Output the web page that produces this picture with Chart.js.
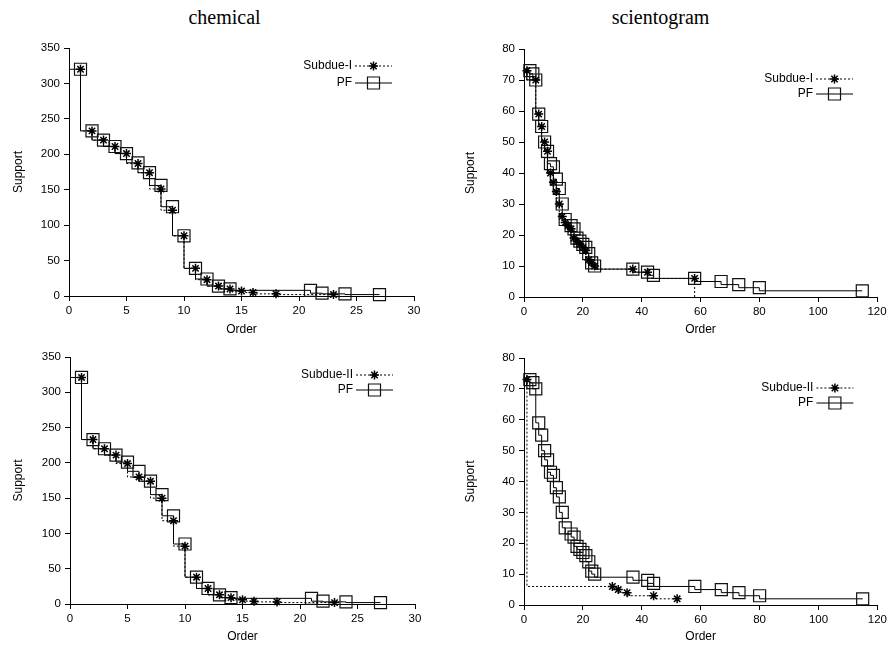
<!DOCTYPE html>
<html>
<head>
<meta charset="utf-8">
<script src="https://cdn.jsdelivr.net/npm/chart.js@4/dist/chart.umd.min.js"></script>
<style>
  html, body { margin: 0; padding: 0; background: #fff; }
  body { width: 890px; height: 646px; position: relative; overflow: hidden; }
  canvas { position: absolute; }
  .ttl { position: absolute; top: 6px; font-family: "Liberation Serif", "DejaVu Serif", serif; font-size: 20px; color: #000; text-align: center; width: 445px; }
</style>
</head>
<body>
<div class="ttl" style="left:2px;">chemical</div>
<div class="ttl" style="left:438px;">scientogram</div>
<canvas id="c1" width="445" height="340" style="left:0;top:0;"></canvas>
<canvas id="c2" width="445" height="340" style="left:445px;top:0;"></canvas>
<canvas id="c3" width="445" height="306" style="left:0;top:340px;"></canvas>
<canvas id="c4" width="445" height="306" style="left:445px;top:340px;"></canvas>
<script>
// ---------------- DATA ----------------
const panelTitles = ["chemical", "scientogram"];
const xAxisLabel = "Order";
const yAxisLabel = "Support";
const seriesNames = ["Subdue-I", "Subdue-II", "PF"];

// chemical
const chemOrderSubdueI   = [1, 2, 3, 4, 5, 6, 7, 8, 9, 10, 11, 12, 13, 14, 15, 16, 18, 23];
const chemSupportSubdueI = [320, 233, 220, 211, 201, 187, 174, 151, 121, 85, 39, 23, 14, 10, 7, 5, 3, 2];
const chemOrderPF1   = [0, 1, 2, 3, 4, 5, 6, 7, 8, 9, 10, 11, 12, 13, 14, 21, 22, 24, 27];
const chemSupportPF1 = [320, 320, 233, 220, 211, 201, 188, 174, 156, 126, 85, 39, 24, 14, 10, 8, 4, 3, 2];

const chemOrderSubdueII   = [1, 2, 3, 4, 5, 6, 7, 8, 9, 10, 11, 12, 13, 14, 15, 16, 18, 23];
const chemSupportSubdueII = [321, 233, 220, 211, 199, 180, 174, 150, 118, 82, 38, 22, 13, 9, 6, 4, 3, 2];
const chemOrderPF2   = [0, 1, 2, 3, 4, 5, 6, 7, 8, 9, 10, 11, 12, 13, 14, 21, 22, 24, 27];
const chemSupportPF2 = [321, 321, 233, 220, 211, 201, 188, 174, 155, 125, 85, 38, 22, 13, 9, 8, 4, 3, 2];

// scientogram
const sciOrderSubdueI   = [1, 4, 5, 6, 7, 8, 9, 10, 11, 12, 13, 14, 15, 16, 17, 18, 19, 20, 21, 22, 23, 24, 37, 42, 58, 58];
const sciSupportSubdueI = [73, 70, 59, 55, 50, 47, 40, 37, 34, 30, 26, 24, 23, 22, 19, 18, 17, 16, 15, 12, 11, 10, 9, 8, 6, 0];
const sciOrderPF   = [2, 3, 4, 5, 6, 7, 8, 9, 10, 11, 12, 13, 14, 16, 17, 18, 19, 20, 21, 22, 23, 24, 37, 42, 44, 58, 67, 73, 80, 115];
const sciSupportPF = [73, 72, 70, 59, 55, 50, 47, 43, 42, 38, 35, 30, 25, 23, 22, 19, 18, 17, 16, 14, 11, 10, 9, 8, 7, 6, 5, 4, 3, 2];
const sciOrderSubdueII   = [1, 30, 32, 35, 44, 52];
const sciSupportSubdueII = [73, 6, 5, 4, 3, 2];

// axis ranges / ticks
const chemXTicks = [0, 5, 10, 15, 20, 25, 30];
const chemYTicks = [0, 50, 100, 150, 200, 250, 300, 350];
const sciXTicks  = [0, 20, 40, 60, 80, 100, 120];
const sciYTicks  = [0, 10, 20, 30, 40, 50, 60, 70, 80];

// ---------------- HELPERS ----------------
const FONT = '"Liberation Sans", Arial, sans-serif';
const pts = (xs, ys) => xs.map((x, i) => ({ x: x, y: ys[i] }));
const hiddenPt = c => (c.raw && (c.raw.x === 0 || c.raw.y === 0));

function subdueDs(label, xs, ys) {
  return {
    label: label, data: pts(xs, ys), showLine: true, stepped: 'after',
    borderColor: '#000', borderWidth: 1, borderDash: [2, 2],
    pointStyle: 'star', pointBorderColor: '#000', pointBackgroundColor: 'rgba(0,0,0,0)',
    pointBorderWidth: 1.5,
    pointRadius: c => hiddenPt(c) ? 0 : 4.5, pointHoverRadius: 0,
    clip: false
  };
}
function pfDs(label, xs, ys) {
  return {
    label: label, data: pts(xs, ys), showLine: true, stepped: 'after',
    borderColor: '#000', borderWidth: 1,
    pointStyle: 'rect', pointBorderColor: '#111', pointBackgroundColor: 'rgba(0,0,0,0)',
    pointBorderWidth: 1.2,
    pointRadius: c => hiddenPt(c) ? 0 : 8.5, pointHoverRadius: 0,
    clip: false
  };
}

const gpLegend = {
  id: 'gpLegend',
  afterDatasetsDraw(chart, args, opts) {
    const { ctx, chartArea } = chart;
    const len = 37;
    const xr = chartArea.right - opts.right;
    chart.data.datasets.forEach((ds, i) => {
      const y = chartArea.top + opts.top + i * opts.gap;
      ctx.save();
      ctx.font = '12px ' + FONT;
      ctx.textAlign = 'right';
      ctx.textBaseline = 'middle';
      ctx.fillStyle = '#000';
      ctx.fillText(ds.label, xr - len - 3, y);
      ctx.strokeStyle = ds.borderColor;
      ctx.lineWidth = ds.borderWidth;
      ctx.setLineDash(ds.borderDash || []);
      ctx.beginPath();
      ctx.moveTo(xr - len, y);
      ctx.lineTo(xr, y);
      ctx.stroke();
      ctx.setLineDash([]);
      ctx.strokeStyle = ds.pointBorderColor;
      ctx.fillStyle = 'rgba(0,0,0,0)';
      ctx.lineWidth = ds.pointBorderWidth;
      Chart.helpers.drawPoint(ctx, {
        pointStyle: ds.pointStyle, rotation: 0,
        radius: ds.pointStyle === 'rect' ? 8.5 : 4.5,
        borderWidth: ds.pointBorderWidth
      }, xr - len / 2, y);
      ctx.restore();
    });
  }
};

function makeChart(id, datasets, cfg) {
  const tickFont = { family: FONT, size: 11.5 };
  return new Chart(document.getElementById(id), {
    type: 'scatter',
    data: { datasets: datasets },
    plugins: [gpLegend],
    options: {
      responsive: false, animation: false, events: [],
      layout: { padding: cfg.padding },
      plugins: {
        legend: { display: false }, tooltip: { enabled: false }, title: { display: false },
        gpLegend: cfg.legend
      },
      scales: {
        x: {
          type: 'linear', min: cfg.xTicks[0], max: cfg.xTicks[cfg.xTicks.length - 1],
          afterBuildTicks: s => { s.ticks = cfg.xTicks.map(v => ({ value: v })); },
          afterFit: s => { s.height = cfg.xH; },
          ticks: { font: tickFont, color: '#000', padding: 3, maxRotation: 0 },
          grid: { drawOnChartArea: false, drawTicks: true, tickLength: 5, color: '#000' },
          border: { display: true, color: '#000', width: 1 },
          title: { display: true, text: xAxisLabel, color: '#000', font: { family: FONT, size: 12 }, padding: { top: 0, bottom: cfg.xTitlePad } }
        },
        y: {
          type: 'linear', min: cfg.yTicks[0], max: cfg.yTicks[cfg.yTicks.length - 1],
          afterBuildTicks: s => { s.ticks = cfg.yTicks.map(v => ({ value: v })); },
          afterFit: s => { s.width = cfg.yW; },
          ticks: { font: tickFont, color: '#000', padding: 4 },
          grid: { drawOnChartArea: false, drawTicks: true, tickLength: 5, color: '#000' },
          border: { display: true, color: '#000', width: 1 },
          title: { display: true, text: yAxisLabel, color: '#000', font: { family: FONT, size: 12 }, padding: { top: cfg.yTitlePad, bottom: 0 } }
        }
      }
    }
  });
}

makeChart('c1', [
  subdueDs(seriesNames[0], chemOrderSubdueI, chemSupportSubdueI),
  pfDs(seriesNames[2], chemOrderPF1, chemSupportPF1)
], { padding: { left: 0, right: 31, top: 48, bottom: 0 }, xTicks: chemXTicks, yTicks: chemYTicks,
     xH: 44, yW: 69, xTitlePad: 3, yTitlePad: 11, legend: { right: 22, top: 18, gap: 17 } });

makeChart('c2', [
  subdueDs(seriesNames[0], sciOrderSubdueI, sciSupportSubdueI),
  pfDs(seriesNames[2], sciOrderPF, sciSupportPF)
], { padding: { left: 0, right: 13, top: 49, bottom: 0 }, xTicks: sciXTicks, yTicks: sciYTicks,
     xH: 43, yW: 79, xTitlePad: 3, yTitlePad: 18, legend: { right: 24, top: 30, gap: 15 } });

makeChart('c3', [
  subdueDs(seriesNames[1], chemOrderSubdueII, chemSupportSubdueII),
  pfDs(seriesNames[2], chemOrderPF2, chemSupportPF2)
], { padding: { left: 0, right: 30, top: 17, bottom: 0 }, xTicks: chemXTicks, yTicks: chemYTicks,
     xH: 42, yW: 70, xTitlePad: 2, yTitlePad: 11, legend: { right: 22, top: 18, gap: 15 } });

makeChart('c4', [
  subdueDs(seriesNames[1], sciOrderSubdueII, sciSupportSubdueII),
  pfDs(seriesNames[2], sciOrderPF, sciSupportPF)
], { padding: { left: 0, right: 12, top: 18, bottom: 0 }, xTicks: sciXTicks, yTicks: sciYTicks,
     xH: 41, yW: 79, xTitlePad: 2, yTitlePad: 18, legend: { right: 24, top: 30, gap: 15 } });
</script>
</body>
</html>
